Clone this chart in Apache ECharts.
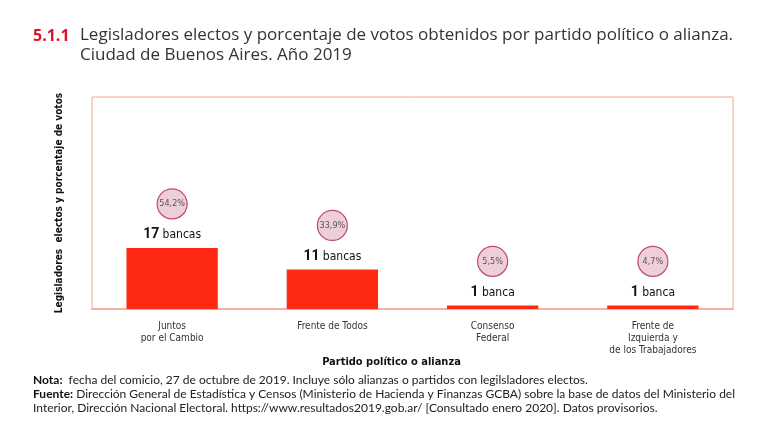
<!DOCTYPE html>
<html>
<head>
<meta charset="utf-8">
<script src="https://cdn.jsdelivr.net/npm/echarts@6/dist/echarts.min.js"></script>
<style>
html,body{margin:0;padding:0;background:#fff;}
#chart{width:778px;height:440px;}
</style>
</head>
<body>
<div id="chart"></div>
<script>
const categories = ["Juntos\npor el Cambio", "Frente de Todos", "Consenso\nFederal", "Frente de\nIzquierda y\nde los Trabajadores"];
const bancas = [17, 11, 1, 1];
const porcentajes = ["54,2", "33,9", "5,5", "4,7"];

const chart = echarts.init(document.getElementById('chart'));
const narrow = '"DejaVu Sans Condensed", "Liberation Sans Narrow", sans-serif';
chart.setOption({
  animation: false,
  grid: { left: 92, right: 45, top: 97, bottom: 131, show: true, borderColor: '#f6a394', borderWidth: 1 },
  xAxis: {
    type: 'category',
    data: categories,
    axisLine: { lineStyle: { color: '#f6b0a4', width: 2 } },
    axisTick: { show: false },
    axisLabel: { color: '#333', fontFamily: narrow, fontSize: 10, lineHeight: 12, margin: 11 },
    name: 'Partido político o alianza',
    nameLocation: 'middle',
    nameGap: 44,
    nameTextStyle: { color: '#111', fontFamily: narrow, fontWeight: 'bold', fontSize: 11, padding: [0, 42, 0, 0] }
  },
  yAxis: {
    type: 'value',
    min: 0, max: 59,
    axisLine: { show: false },
    axisTick: { show: false },
    axisLabel: { show: false },
    splitLine: { show: false },
    name: 'Legisladores  electos y porcentaje de votos',
    nameLocation: 'middle',
    nameGap: 28,
    nameTextStyle: { color: '#111', fontFamily: narrow, fontWeight: 'bold', fontSize: 10 }
  },
  series: [
    {
      type: 'bar',
      data: bancas,
      barWidth: '57%',
      itemStyle: { color: '#ff2914' },
      label: {
        show: true, position: 'top', distance: 6,
        formatter: p => '{n|' + p.value + '} {t|' + (p.value === 1 ? 'banca' : 'bancas') + '}',
        rich: {
          n: { fontFamily: 'Roboto, sans-serif', fontWeight: 'bold', fontSize: 14, color: '#111' },
          t: { fontFamily: narrow, fontSize: 12, color: '#111' }
        }
      }
    },
    {
      type: 'scatter',
      data: bancas,
      symbol: 'circle',
      symbolSize: 30,
      symbolOffset: [0, -44],
      itemStyle: { color: '#e9c3d0', borderColor: '#b3204a', borderWidth: 1.2 },
      z: 5,
      label: {
        show: true, position: 'inside',
        formatter: p => porcentajes[p.dataIndex] + '%',
        fontFamily: narrow, fontSize: 9, color: '#333'
      }
    }
  ],
  graphic: [
    { type: 'text', left: 33, top: 28, style: { text: '5.1.1', font: 'bold 16px "Open Sans", sans-serif', fill: '#e3102a' } },
    { type: 'text', left: 80, top: 25, style: { text: 'Legisladores electos y porcentaje de votos obtenidos por partido político o alianza.\nCiudad de Buenos Aires. Año 2019', font: '17px "Open Sans", sans-serif', lineHeight: 20, fill: '#333' } },
    { type: 'text', left: 33, top: 373, style: {
        rich: {
          b: { fontFamily: 'Lato, sans-serif', fontWeight: 'bold', fontSize: 12, fill: '#111' },
          r: { fontFamily: 'Lato, sans-serif', fontSize: 12, fill: '#222' }
        },
        text: '{b|Nota:}{r|  fecha del comicio, 27 de octubre de 2019. Incluye sólo alianzas o partidos con legilsladores electos.}\n{b|Fuente:}{r| Dirección General de Estadística y Censos (Ministerio de Hacienda y Finanzas GCBA) sobre la base de datos del Ministerio del}\n{r|Interior, Dirección Nacional Electoral. https://www.resultados2019.gob.ar/ [Consultado enero 2020]. Datos provisorios.}',
        lineHeight: 14
      } }
  ]
});
</script>
</body>
</html>
